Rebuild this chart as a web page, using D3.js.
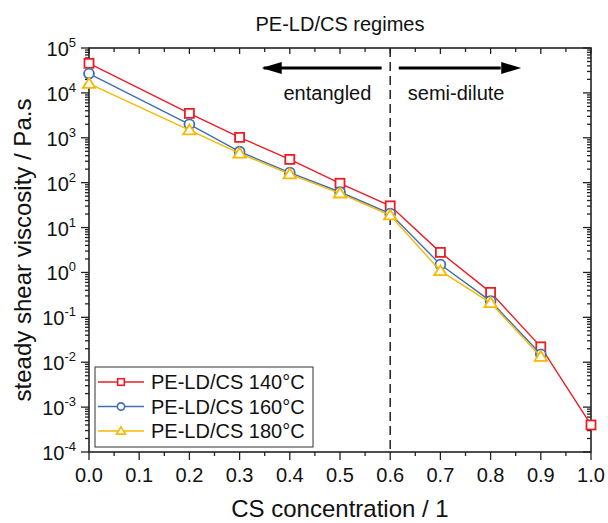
<!DOCTYPE html>
<html>
<head>
<meta charset="utf-8">
<script src="https://cdn.jsdelivr.net/npm/d3@7"></script>
<style>
  html, body { margin: 0; padding: 0; background: #fff; }
  svg { display: block; font-family: "Liberation Sans", Arial, sans-serif; }
</style>
</head>
<body>
<svg id="chart" width="608" height="523"></svg>
<script>
// ---- data ----
const concentration = [0.0, 0.2, 0.3, 0.4, 0.5, 0.6, 0.7, 0.8, 0.9, 1.0];
const visc140 = [45600, 3500, 1020, 330, 97, 30.5, 2.8, 0.36, 0.022, 0.0004];
const visc160 = [27000, 2000, 490, 167, 62, 20.5, 1.5, 0.23, 0.015, null];
const visc180 = [16000, 1480, 450, 155, 58, 18.8, 1.08, 0.21, 0.0133, null];
const seriesNames = ["PE-LD/CS 140°C", "PE-LD/CS 160°C", "PE-LD/CS 180°C"];
const seriesColors = ["#ee1c25", "#3f6fb0", "#f7b800"];
const seriesShapes = ["square", "circle", "triangle"];
const xTicks = [0.0, 0.1, 0.2, 0.3, 0.4, 0.5, 0.6, 0.7, 0.8, 0.9, 1.0];
const yDecades = [-4, -3, -2, -1, 0, 1, 2, 3, 4, 5];
const boundary = 0.6;

const svg = d3.select("#chart");
const L = 89, R = 591, T = 48, B = 452;
const x = d3.scaleLinear().domain([0, 1]).range([L, R]);
const y = d3.scaleLog().domain([1e-4, 1e5]).range([B, T]);

// minor tick values
const minorX = d3.range(0, 1.0001, 0.05).map(v => +v.toFixed(2));
const minorY = [];
for (let d = -4; d < 5; d++) for (let m = 2; m <= 9; m++) minorY.push(m * Math.pow(10, d));

const ax = svg.append("g").attr("stroke", "#222").attr("stroke-width", 1.3);
// bottom ticks outward
minorX.forEach(v => {
  const major = Math.abs(v * 10 - Math.round(v * 10)) < 1e-6;
  ax.append("line").attr("x1", x(v)).attr("x2", x(v)).attr("y1", B).attr("y2", B + (major ? 8 : 4));
  ax.append("line").attr("x1", x(v)).attr("x2", x(v)).attr("y1", T).attr("y2", T + (major ? 6 : 4));
});
// left/right ticks
yDecades.forEach(d => {
  const v = Math.pow(10, d);
  ax.append("line").attr("x1", L - 8).attr("x2", L).attr("y1", y(v)).attr("y2", y(v));
  ax.append("line").attr("x1", R - 8).attr("x2", R).attr("y1", y(v)).attr("y2", y(v));
});
minorY.forEach(v => {
  ax.append("line").attr("x1", L - 4).attr("x2", L).attr("y1", y(v)).attr("y2", y(v));
  ax.append("line").attr("x1", R - 4).attr("x2", R).attr("y1", y(v)).attr("y2", y(v));
});
// frame
svg.append("rect").attr("x", L).attr("y", T).attr("width", R - L).attr("height", B - T)
  .attr("fill", "none").attr("stroke", "#222").attr("stroke-width", 1.6);

// x tick labels
svg.append("g").selectAll("text").data(xTicks).join("text")
  .attr("x", d => x(d)).attr("y", B + 30).attr("text-anchor", "middle")
  .attr("font-size", 20).attr("fill", "#111").text(d => d.toFixed(1));

// y tick labels
const yl = svg.append("g").selectAll("text").data(yDecades).join("text")
  .attr("x", 76).attr("y", d => y(Math.pow(10, d)) + 8).attr("text-anchor", "end")
  .attr("font-size", 20).attr("fill", "#111");
yl.append("tspan").text("10");
yl.append("tspan").attr("font-size", 13).attr("dy", -9).text(d => String(d));

// axis titles
svg.append("text").attr("x", (L + R) / 2).attr("y", 517).attr("text-anchor", "middle")
  .attr("font-size", 24).attr("fill", "#111").text("CS concentration / 1");
svg.append("text").attr("transform", `translate(31,${(T + B) / 2}) rotate(-90)`)
  .attr("text-anchor", "middle").attr("font-size", 24).attr("fill", "#111")
  .text("steady shear viscosity / Pa.s");

// title
svg.append("text").attr("x", (L + R) / 2).attr("y", 31).attr("text-anchor", "middle")
  .attr("font-size", 20).attr("fill", "#111").text("PE-LD/CS regimes");

// dashed boundary
svg.append("line").attr("x1", x(boundary)).attr("x2", x(boundary)).attr("y1", T).attr("y2", B)
  .attr("stroke", "#222").attr("stroke-width", 1.5).attr("stroke-dasharray", "9,5");

// arrows
const ay = 68;
svg.append("line").attr("x1", x(0.348)).attr("x2", x(0.583)).attr("y1", ay).attr("y2", ay)
  .attr("stroke", "#000").attr("stroke-width", 3);
svg.append("path").attr("d", `M${x(0.344)},${ay} l20,-6 l0,12 z`).attr("fill", "#000");
svg.append("line").attr("x1", x(0.617)).attr("x2", x(0.82)).attr("y1", ay).attr("y2", ay)
  .attr("stroke", "#000").attr("stroke-width", 3);
svg.append("path").attr("d", `M${x(0.861)},${ay} l-20,-6 l0,12 z`).attr("fill", "#000");
svg.append("text").attr("x", x(0.475)).attr("y", 100).attr("text-anchor", "middle")
  .attr("font-size", 20).attr("fill", "#111").text("entangled");
svg.append("text").attr("x", x(0.635)).attr("y", 100).attr("text-anchor", "start")
  .attr("font-size", 20).attr("fill", "#111").text("semi-dilute");

// marker
function marker(g, shape, cx, cy, s, color, sw) {
  if (shape === "square") {
    g.append("rect").attr("x", cx - s).attr("y", cy - s).attr("width", 2 * s).attr("height", 2 * s)
      .attr("fill", "#fff").attr("stroke", color).attr("stroke-width", sw);
  } else if (shape === "circle") {
    g.append("circle").attr("cx", cx).attr("cy", cy).attr("r", s * 1.1)
      .attr("fill", "#fff").attr("stroke", color).attr("stroke-width", sw);
  } else {
    const h = s * 1.25;
    g.append("path").attr("d", `M${cx},${cy - h} L${cx + h * 1.1},${cy + h * 0.75} L${cx - h * 1.1},${cy + h * 0.75} Z`)
      .attr("fill", "#fff").attr("stroke", color).attr("stroke-width", sw);
  }
}

const allSeries = [visc140, visc160, visc180];
const line = d3.line().defined(d => d[1] != null).x(d => x(d[0])).y(d => y(d[1]));
allSeries.forEach((vals, i) => {
  const pts = concentration.map((c, j) => [c, vals[j]]);
  const g = svg.append("g");
  g.append("path").attr("d", line(pts)).attr("fill", "none")
    .attr("stroke", seriesColors[i]).attr("stroke-width", 1.4);
  pts.filter(p => p[1] != null).forEach(p => marker(g, seriesShapes[i], x(p[0]), y(p[1]), 4.5, seriesColors[i], 1.8));
});

// legend
const lg = svg.append("g");
lg.append("rect").attr("x", 95).attr("y", 367).attr("width", 218).attr("height", 80)
  .attr("fill", "#fff").attr("stroke", "#333").attr("stroke-width", 1);
seriesNames.forEach((n, i) => {
  const ry = 382 + i * 24.5;
  lg.append("line").attr("x1", 98).attr("x2", 144).attr("y1", ry).attr("y2", ry)
    .attr("stroke", seriesColors[i]).attr("stroke-width", 1.4);
  marker(lg, seriesShapes[i], 121, ry, 3.3, seriesColors[i], 1.6);
  lg.append("text").attr("x", 151).attr("y", ry + 7).attr("font-size", 20).attr("fill", "#111").text(n);
});
</script>
</body>
</html>
